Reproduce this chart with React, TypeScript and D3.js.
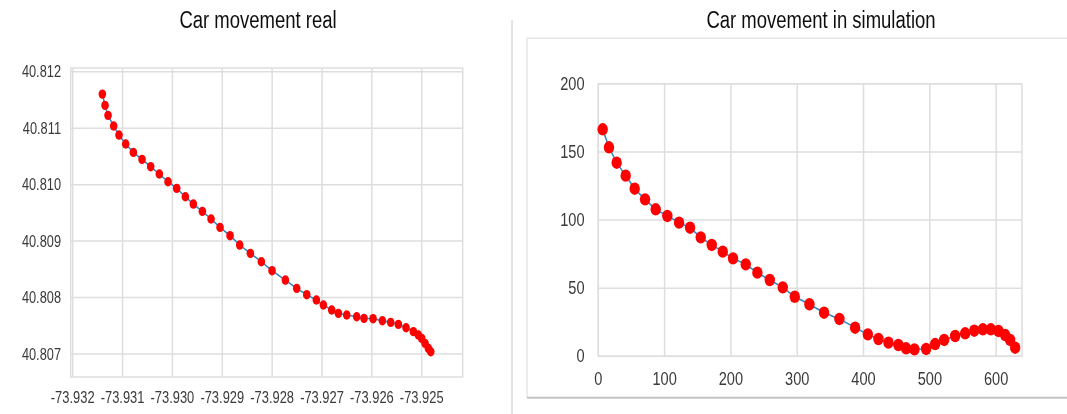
import React from "react";
import * as d3 from "d3";

// ---------- data ----------
const realLon = [
  -73.931405, -73.931351, -73.931291, -73.931178, -73.931071, -73.930937, -73.930783,
  -73.930609, -73.930436, -73.930262, -73.930088, -73.929914, -73.92974, -73.92958,
  -73.929399, -73.929225, -73.929045, -73.928844, -73.92865, -73.928436, -73.928216,
  -73.928002, -73.927734, -73.927507, -73.927306, -73.927113, -73.926972, -73.926805,
  -73.926671, -73.926504, -73.926304, -73.926157, -73.925976, -73.925789, -73.925622,
  -73.925468, -73.925314, -73.925167, -73.925067, -73.925, -73.924933, -73.924866,
  -73.924819,
];
const realLat = [
  40.811604, 40.811404, 40.811227, 40.811038, 40.810878, 40.810719, 40.810571,
  40.810447, 40.810318, 40.810188, 40.810052, 40.809934, 40.809786, 40.809656,
  40.809527, 40.809391, 40.809243, 40.809096, 40.80893, 40.808783, 40.808635,
  40.808476, 40.80831, 40.808163, 40.808051, 40.807956, 40.807868, 40.807779,
  40.80772, 40.807691, 40.807661, 40.807632, 40.807626, 40.80759, 40.807561,
  40.807525, 40.807466, 40.807396, 40.807336, 40.807277, 40.807189, 40.8071,
  40.807041,
];
const simX = [
  6.6, 16.1, 27.7, 41.3, 54.9, 70.5, 86.6, 104.1, 121.8, 138.4, 154.5, 171.1, 187.7,
  203.2, 222.4, 239.9, 258.6, 278.2, 296.3, 318.4, 340.5, 363.6, 387.3, 406.5, 422.5,
  437.6, 452.6, 464.2, 476.8, 494.4, 508.0, 521.6, 538.2, 553.3, 567.0, 580.0, 592.0,
  603.5, 613.6, 621.1, 628.7,
];
const simY = [
  166.6, 153.4, 142.1, 132.6, 123.0, 115.2, 107.9, 103.0, 98.1, 94.4, 87.3, 81.7, 76.8,
  71.9, 67.5, 61.4, 56.0, 50.6, 43.7, 38.2, 32.0, 27.4, 21.0, 16.1, 12.7, 10.0, 8.3,
  5.9, 5.1, 5.4, 9.0, 12.0, 14.9, 16.9, 18.8, 19.8, 19.8, 18.6, 15.6, 12.0, 6.3,
];
const realXTicks = [-73.932, -73.931, -73.93, -73.929, -73.928, -73.927, -73.926, -73.925];
const realYTicks = [40.807, 40.808, 40.809, 40.81, 40.811, 40.812];
const simXTicks = [0, 100, 200, 300, 400, 500, 600];
const simYTicks = [0, 50, 100, 150, 200];
const titles = ["Car movement real", "Car movement in simulation"];

const FONT = "'Liberation Sans', Arial, Helvetica, sans-serif";
const SY = 1.3;
const GRID = "#dedede";
const LINE = "#2f86c0";
const DOT = "#ff0000";

function T(props: {
  x: number; y: number; anchor?: string; size: number; fill?: string; children: any;
}) {
  const { x, y, anchor = "middle", size, fill = "#3a3a3a", children } = props;
  return (
    <text
      transform={`translate(${x},${y}) scale(1,${SY})`}
      textAnchor={anchor as any}
      dominantBaseline="central"
      fontSize={size}
      fill={fill}
      fontFamily={FONT}
    >
      {children}
    </text>
  );
}

export default function App() {
  // left panel
  const lx = d3.scaleLinear().domain([-73.93204, -73.924178]).range([70.7, 462.7]);
  const ly = d3.scaleLinear().domain([40.806593, 40.812066]).range([377, 68]);
  const realPts = realLon.map((v, i) => [lx(v), ly(realLat[i])] as [number, number]);

  // right panel
  const rx = d3.scaleLinear().domain([0, 639]).range([598.3, 1022]);
  const ry = d3.scaleLinear().domain([0, 200]).range([356.3, 83.8]);
  const simPts = simX.map((v, i) => [rx(v), ry(simY[i])] as [number, number]);

  const line = d3.line();

  return (
    <svg
      width={1067}
      height={414}
      style={{ position: "absolute", left: 0, top: 0, background: "#fff" }}
    >
      <defs>
        <filter id="soft" x="-5%" y="-5%" width="110%" height="110%">
          <feGaussianBlur stdDeviation="0.45" />
        </filter>
      </defs>
      <rect x={0} y={0} width={1067} height={414} fill="#fff" />
      <g filter="url(#soft)">
        {/* titles */}
        <T x={258} y={20} size={18.5} fill="#111">{titles[0]}</T>
        <T x={821} y={20} size={18.5} fill="#111">{titles[1]}</T>

        {/* separator */}
        <line x1={512} x2={512} y1={20} y2={414} stroke="#c8c8c8" strokeWidth={1} />

        {/* right outer frame */}
        <line x1={527} x2={1067} y1={38.3} y2={38.3} stroke="#e6e6e6" strokeWidth={1.5} />
        <line x1={527} x2={527} y1={38.3} y2={397.7} stroke="#e6e6e6" strokeWidth={1.5} />
        <line x1={527} x2={1067} y1={397.7} y2={397.7} stroke="#c4c4c4" strokeWidth={2} />

        {/* ---- left plot ---- */}
        <g>
          {realXTicks.map((t) => (
            <line key={"lxg" + t} x1={lx(t)} x2={lx(t)} y1={68} y2={377} stroke={GRID} strokeWidth={1.5} />
          ))}
          {realYTicks.map((t) => (
            <line key={"lyg" + t} x1={70.7} x2={462.7} y1={ly(t)} y2={ly(t)} stroke={GRID} strokeWidth={1.5} />
          ))}
          <rect x={70.7} y={68} width={392} height={309} fill="none" stroke={GRID} strokeWidth={1.5} />
          {realXTicks.map((t) => (
            <T key={"lxt" + t} x={lx(t)} y={396.5} size={12.9}>
              {d3.format(".3f")(t).replace("−", "-")}
            </T>
          ))}
          {realYTicks.map((t) => (
            <T key={"lyt" + t} x={61} y={ly(t)} anchor="end" size={12.8}>
              {d3.format(".3f")(t)}
            </T>
          ))}
          <path d={line(realPts) || ""} fill="none" stroke={LINE} strokeWidth={1.5} />
          {realPts.map((p, i) => (
            <ellipse key={"lp" + i} cx={p[0]} cy={p[1]} rx={3.8} ry={4.7} fill={DOT} />
          ))}
        </g>

        {/* ---- right plot ---- */}
        <g>
          {simXTicks.map((t) => (
            <line key={"rxg" + t} x1={rx(t)} x2={rx(t)} y1={83.8} y2={356.3} stroke={GRID} strokeWidth={1.5} />
          ))}
          {simYTicks.map((t) => (
            <line key={"ryg" + t} x1={598.3} x2={1022} y1={ry(t)} y2={ry(t)} stroke={GRID} strokeWidth={1.5} />
          ))}
          <rect x={598.3} y={83.8} width={1022 - 598.3} height={356.3 - 83.8} fill="none" stroke={GRID} strokeWidth={1.5} />
          {simXTicks.map((t) => (
            <T key={"rxt" + t} x={rx(t)} y={378.5} size={14.6}>
              {String(t)}
            </T>
          ))}
          {simYTicks.map((t) => (
            <T key={"ryt" + t} x={584.5} y={ry(t)} anchor="end" size={14.6}>
              {String(t)}
            </T>
          ))}
          <path d={line(simPts) || ""} fill="none" stroke={LINE} strokeWidth={1.5} />
          {simPts.map((p, i) => (
            <ellipse key={"rp" + i} cx={p[0]} cy={p[1]} rx={5.2} ry={6.2} fill={DOT} />
          ))}
        </g>
      </g>
    </svg>
  );
}
